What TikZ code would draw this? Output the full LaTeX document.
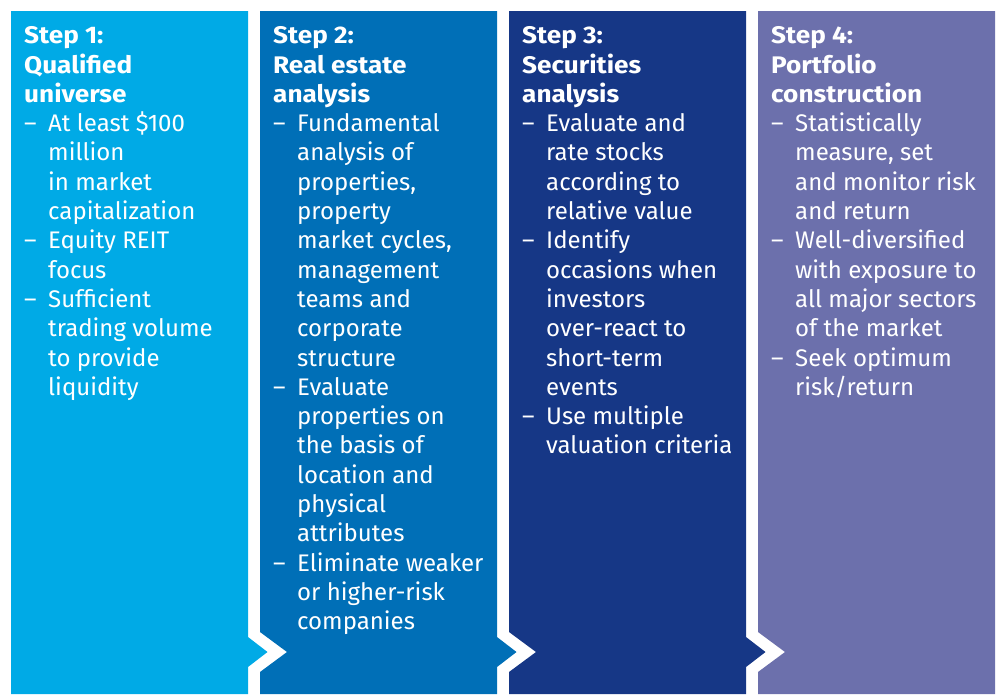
\documentclass[tikz,border=0pt]{standalone}
\usepackage{fontspec}
\setmainfont{Fira Sans}
\definecolor{cA}{RGB}{0,170,230}
\definecolor{cB}{RGB}{0,111,183}
\definecolor{cC}{RGB}{22,55,134}
\definecolor{cD}{RGB}{108,112,172}
\newcommand\stephd[1]{\scalebox{1.09}[1]{\textbf{#1}}}
\newcommand\stepbul[1]{\makebox[24pt][l]{–}#1}
\newcommand\stepcont[1]{\hspace*{24pt}#1}
\tikzset{
  line/.style={anchor=base west, inner sep=0pt, text=white, font=\fontsize{24}{28}\selectfont},
}
\begin{document}
\begin{tikzpicture}[x=1pt,y=-1pt]
\useasboundingbox (0,0) rectangle (1000,694);
% columns
\fill[cA] (11,11) -- (248,11) -- (248,637) -- (267.5,652) -- (248,667) -- (248,694) -- (11,694) -- cycle;
\fill[cB] (260,11) -- (497,11) -- (497,637) -- (516.5,652) -- (497,667) -- (497,694) -- (260,694) -- (260,672) -- (287,652) -- (260,632) -- cycle;
\fill[cC] (509,11) -- (746,11) -- (746,637) -- (765.5,652) -- (746,667) -- (746,694) -- (509,694) -- (509,672) -- (536,652) -- (509,632) -- cycle;
\fill[cD] (758,11) -- (995,11) -- (995,694) -- (758,694) -- (758,672) -- (785,652) -- (758,632) -- cycle;
% texts
\foreach \t [count=\i] in {{\stephd{Step 1:}},{\stephd{Qualified}},{\stephd{universe}},
  {\stepbul{At least \$100}},{\stepcont{million}},{\stepcont{in market}},{\stepcont{capitalization}},
  {\stepbul{Equity REIT}},{\stepcont{focus}},
  {\stepbul{Sufficient}},{\stepcont{trading volume}},{\stepcont{to provide}},{\stepcont{liquidity}}}
  \node[line] (a\i) at (24,{43.7+(\i-1)*29.3}) {\t};
\foreach \t [count=\i] in {{\stephd{Step 2:}},{\stephd{Real estate}},{\stephd{analysis}},
  {\stepbul{Fundamental}},{\stepcont{analysis of}},{\stepcont{properties,}},{\stepcont{property}},
  {\stepcont{market cycles,}},{\stepcont{management}},{\stepcont{teams and}},{\stepcont{corporate}},
  {\stepcont{structure}},
  {\stepbul{Evaluate}},{\stepcont{properties on}},{\stepcont{the basis of}},{\stepcont{location and}},
  {\stepcont{physical}},{\stepcont{attributes}},
  {\stepbul{Eliminate weaker}},{\stepcont{or higher-risk}},{\stepcont{companies}}}
  \node[line] (b\i) at (273,{43.7+(\i-1)*29.3}) {\t};
\foreach \t [count=\i] in {{\stephd{Step 3:}},{\stephd{Securities}},{\stephd{analysis}},
  {\stepbul{Evaluate and}},{\stepcont{rate stocks}},{\stepcont{according to}},{\stepcont{relative value}},
  {\stepbul{Identify}},{\stepcont{occasions when}},{\stepcont{investors}},{\stepcont{over-react to}},
  {\stepcont{short-term}},{\stepcont{events}},
  {\stepbul{Use multiple}},{\stepcont{valuation criteria}}}
  \node[line] (c\i) at (522,{43.7+(\i-1)*29.3}) {\t};
\foreach \t [count=\i] in {{\stephd{Step 4:}},{\stephd{Portfolio}},{\stephd{construction}},
  {\stepbul{Statistically}},{\stepcont{measure, set}},{\stepcont{and monitor risk}},{\stepcont{and return}},
  {\stepbul{Well-diversified}},{\stepcont{with exposure to}},{\stepcont{all major sectors}},{\stepcont{of the market}},
  {\stepbul{Seek optimum}},{\stepcont{risk/return}}}
  \node[line] (d\i) at (771,{43.7+(\i-1)*29.3}) {\t};
\end{tikzpicture}
\end{document}
